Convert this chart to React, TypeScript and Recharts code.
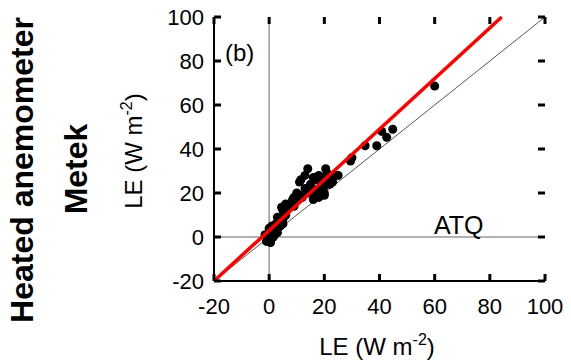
import {
  ScatterChart, Scatter, XAxis, YAxis, ZAxis,
} from 'recharts'

// LE from ATQ (x) against LE from Metek heated anemometer (y), W m-2
const leAtq = [
  -1, -0.5, 0, 0.5, 1, -1.5, 0, 1, 2, 0.5, 1.5, 2, 3, 3, 2.5, 4, 4, 5, 5, 3,
  4.5, 5, 6, 7, 8.5, 9, 10, 11, 12, 13, 14, 15, 16, 17, 18, 19, 20, 21, 22, 23,
  24, 20, 18, 16, 11.5, 14, 15, 16, 17, 18, 19, 20.5, 21, 22, 23, 11, 13, 20, 25, 29.5,
  30, 34.8, 39, 40.8, 42.6, 44.8, 60, 6, 9, 10,
]
const leMetek = [
  -2, 0, 1, -1.5, 2, 1, 4, 5, 3, -2.5, 0, 1, 2, 4, 6, 5, 7, 8, 6, 9,
  13.5, 12, 10, 14, 17, 14, 17, 19, 18, 22, 20, 23, 19, 21, 22, 24, 23, 25, 26, 27,
  28, 20, 18, 17, 26, 31, 24, 27, 26, 28, 27, 31, 29, 24, 25, 25, 28, 19, 28, 34.5,
  36, 41.5, 41.5, 48, 45.3, 49, 68.6, 15, 18, 20,
]

// regression line end points and 1:1 line
const fitX = [-20, 84.3]
const fitY = [-20, 100]
const oneToOne = [-20, 100]

const TICKS = [-20, 0, 20, 40, 60, 80, 100]
const DOMAIN: [number, number] = [-20, 100]
const [LO, HI] = DOMAIN

const points = leAtq.map((x, i) => ({ x, y: leMetek[i] }))
const fitLine = fitX.map((x, i) => ({ x, y: fitY[i] }))
const diagLine = oneToOne.map((v) => ({ x: v, y: v }))
const zeroV = DOMAIN.map((v) => ({ x: 0, y: v }))
const zeroH = DOMAIN.map((v) => ({ x: v, y: 0 }))

// inward tick marks on the four sides of the box
const bottomTicks = TICKS.map((t) => ({ x: t, y: LO }))
const topTicks = TICKS.map((t) => ({ x: t, y: HI }))
const leftTicks = TICKS.map((t) => ({ x: LO, y: t }))
const rightTicks = TICKS.map((t) => ({ x: HI, y: t }))

const FONT = '"Liberation Sans", Arial, sans-serif'
const AXIS_LINE = { stroke: '#000', strokeWidth: 2 }
const TL = 7
const noShape = () => <g />
const tickMark = (dx: number, dy: number) => (p: any) => (
  <line x1={p.cx} y1={p.cy} x2={p.cx + dx} y2={p.cy + dy} stroke="#000" strokeWidth={3} />
)

export default function App() {
  return (
    <div
      style={{
        position: 'absolute', left: 0, top: 0, width: 571, height: 360,
        background: '#fff', fontFamily: FONT,
      }}
    >
      <ScatterChart
        width={571}
        height={360}
        margin={{ top: 17, right: 26, bottom: 29, left: 0 }}
      >
        <XAxis
          type="number"
          dataKey="x"
          domain={DOMAIN}
          ticks={TICKS}
          height={50}
          axisLine={AXIS_LINE}
          tickLine={false}
          tickMargin={11}
          tick={{ fill: '#000', fontSize: 22 }}
        />
        <XAxis
          xAxisId="top"
          orientation="top"
          type="number"
          dataKey="x"
          domain={DOMAIN}
          mirror
          height={0}
          axisLine={AXIS_LINE}
          tickLine={false}
          tick={false}
        />
        <YAxis
          type="number"
          dataKey="y"
          domain={DOMAIN}
          ticks={TICKS}
          width={214}
          axisLine={AXIS_LINE}
          tickLine={false}
          tickMargin={4}
          tick={{ fill: '#000', fontSize: 22 }}
        />
        <YAxis
          yAxisId="right"
          orientation="right"
          type="number"
          dataKey="y"
          domain={DOMAIN}
          mirror
          width={0}
          axisLine={AXIS_LINE}
          tickLine={false}
          tick={false}
        />
        <ZAxis range={[72, 72]} />
        <Scatter data={zeroV} line={{ stroke: '#999', strokeWidth: 1.5 }} shape={noShape} isAnimationActive={false} />
        <Scatter data={zeroH} line={{ stroke: '#999', strokeWidth: 1.5 }} shape={noShape} isAnimationActive={false} />
        <Scatter data={diagLine} line={{ stroke: '#555', strokeWidth: 1 }} shape={noShape} isAnimationActive={false} />
        <Scatter data={points} fill="#000" isAnimationActive={false} />
        <Scatter
          data={fitLine}
          xAxisId="top"
          yAxisId="right"
          line={{ stroke: '#ff0000', strokeWidth: 3.5 }}
          shape={noShape}
          isAnimationActive={false}
        />
        <Scatter data={bottomTicks} shape={tickMark(0, -TL)} isAnimationActive={false} />
        <Scatter data={topTicks} shape={tickMark(0, TL)} isAnimationActive={false} />
        <Scatter data={leftTicks} shape={tickMark(TL, 0)} isAnimationActive={false} />
        <Scatter data={rightTicks} shape={tickMark(-TL, 0)} isAnimationActive={false} />
      </ScatterChart>
      <svg
        width={571}
        height={360}
        style={{ position: 'absolute', left: 0, top: 0, pointerEvents: 'none' }}
        fontFamily={FONT}
      >
        <text x={225} y={61} fontSize={24} fill="#000">(b)</text>
        <text x={434} y={234} fontSize={25} fill="#000">ATQ</text>
        <text x={377} y={355} fontSize={24} fill="#000" textAnchor="middle">
          LE (W m<tspan fontSize={16} dy={-10}>-2</tspan><tspan dy={10}>)</tspan>
        </text>
        <text transform="translate(142,151) rotate(-90)" fontSize={24} fill="#000" textAnchor="middle">
          LE (W m<tspan fontSize={16} dy={-10}>-2</tspan><tspan dy={10}>)</tspan>
        </text>
        <text transform="translate(87,169) rotate(-90)" fontSize={32} fontWeight="bold" fill="#000" textAnchor="middle">
          Metek
        </text>
        <text transform="translate(33,170) rotate(-90)" fontSize={32} fontWeight="bold" fill="#000" textAnchor="middle">
          Heated anemometer
        </text>
      </svg>
    </div>
  )
}
